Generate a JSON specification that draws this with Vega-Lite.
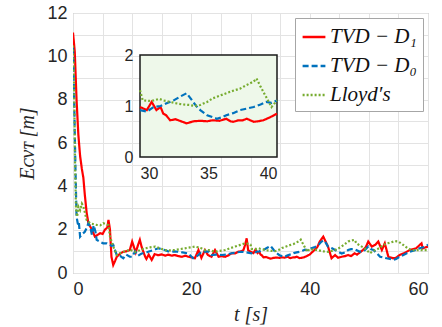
{
  "$schema": "https://vega.github.io/schema/vega-lite/v6.json",
  "width": 355,
  "height": 260,
  "autosize": {"type": "none"},
  "padding": {"left": 73, "top": 13, "right": 14, "bottom": 54},
  "background": "white",
  "config": {
    "view": {"stroke": "#a6a6a6", "strokeWidth": 1},
    "axis": {"labelFont": "Liberation Sans", "labelColor": "#262626", "titleColor": "#262626", "titleFont": "Liberation Serif", "titleFontStyle": "italic", "titleFontWeight": "normal"}
  },
  "datasets": {
    "d": [
      {"t":0,"v":11.1,"s":"TVD − D₁"},{"t":0.3,"v":10.2,"s":"TVD − D₁"},{"t":0.6,"v":8.0,"s":"TVD − D₁"},{"t":0.9,"v":6.4,"s":"TVD − D₁"},{"t":1.2,"v":5.4,"s":"TVD − D₁"},{"t":1.5,"v":4.8,"s":"TVD − D₁"},{"t":1.75,"v":4.4,"s":"TVD − D₁"},{"t":2.0,"v":3.6,"s":"TVD − D₁"},{"t":2.3,"v":2.8,"s":"TVD − D₁"},{"t":2.6,"v":2.3,"s":"TVD − D₁"},{"t":3.2,"v":2.0,"s":"TVD − D₁"},{"t":3.7,"v":1.68,"s":"TVD − D₁"},{"t":4.1,"v":1.75,"s":"TVD − D₁"},{"t":4.6,"v":1.84,"s":"TVD − D₁"},{"t":5.0,"v":1.8,"s":"TVD − D₁"},{"t":5.4,"v":2.0,"s":"TVD − D₁"},{"t":5.8,"v":2.1,"s":"TVD − D₁"},{"t":6.0,"v":2.45,"s":"TVD − D₁"},{"t":6.25,"v":2.0,"s":"TVD − D₁"},{"t":6.5,"v":0.75,"s":"TVD − D₁"},{"t":6.8,"v":0.37,"s":"TVD − D₁"},{"t":7.1,"v":0.55,"s":"TVD − D₁"},{"t":7.4,"v":0.75,"s":"TVD − D₁"},{"t":8.0,"v":0.9,"s":"TVD − D₁"},{"t":8.5,"v":0.98,"s":"TVD − D₁"},{"t":9.0,"v":1.0,"s":"TVD − D₁"},{"t":9.6,"v":1.06,"s":"TVD − D₁"},{"t":10.0,"v":1.45,"s":"TVD − D₁"},{"t":10.3,"v":1.2,"s":"TVD − D₁"},{"t":10.6,"v":0.95,"s":"TVD − D₁"},{"t":11.0,"v":1.3,"s":"TVD − D₁"},{"t":11.3,"v":1.53,"s":"TVD − D₁"},{"t":11.6,"v":1.2,"s":"TVD − D₁"},{"t":12.2,"v":0.75,"s":"TVD − D₁"},{"t":12.4,"v":0.65,"s":"TVD − D₁"},{"t":12.8,"v":0.85,"s":"TVD − D₁"},{"t":13.3,"v":0.6,"s":"TVD − D₁"},{"t":13.8,"v":0.87,"s":"TVD − D₁"},{"t":14.4,"v":0.82,"s":"TVD − D₁"},{"t":15.0,"v":0.86,"s":"TVD − D₁"},{"t":15.6,"v":0.8,"s":"TVD − D₁"},{"t":16.1,"v":0.85,"s":"TVD − D₁"},{"t":16.7,"v":0.8,"s":"TVD − D₁"},{"t":17.2,"v":0.83,"s":"TVD − D₁"},{"t":17.8,"v":0.78,"s":"TVD − D₁"},{"t":18.4,"v":0.75,"s":"TVD − D₁"},{"t":19.0,"v":0.8,"s":"TVD − D₁"},{"t":19.5,"v":0.75,"s":"TVD − D₁"},{"t":20.1,"v":0.72,"s":"TVD − D₁"},{"t":20.6,"v":0.68,"s":"TVD − D₁"},{"t":21.2,"v":1.06,"s":"TVD − D₁"},{"t":21.7,"v":0.7,"s":"TVD − D₁"},{"t":22.3,"v":1.06,"s":"TVD − D₁"},{"t":22.8,"v":0.83,"s":"TVD − D₁"},{"t":23.4,"v":0.75,"s":"TVD − D₁"},{"t":24.0,"v":1.06,"s":"TVD − D₁"},{"t":24.6,"v":0.75,"s":"TVD − D₁"},{"t":25.1,"v":0.78,"s":"TVD − D₁"},{"t":25.7,"v":0.75,"s":"TVD − D₁"},{"t":26.3,"v":0.82,"s":"TVD − D₁"},{"t":26.8,"v":0.91,"s":"TVD − D₁"},{"t":27.4,"v":0.9,"s":"TVD − D₁"},{"t":27.9,"v":0.98,"s":"TVD − D₁"},{"t":28.4,"v":1.0,"s":"TVD − D₁"},{"t":28.8,"v":1.06,"s":"TVD − D₁"},{"t":29.1,"v":1.3,"s":"TVD − D₁"},{"t":29.35,"v":1.6,"s":"TVD − D₁"},{"t":29.6,"v":1.06,"s":"TVD − D₁"},{"t":30.0,"v":0.98,"s":"TVD − D₁"},{"t":30.5,"v":0.92,"s":"TVD − D₁"},{"t":30.85,"v":1.08,"s":"TVD − D₁"},{"t":31.2,"v":0.92,"s":"TVD − D₁"},{"t":31.5,"v":0.98,"s":"TVD − D₁"},{"t":31.7,"v":0.85,"s":"TVD − D₁"},{"t":31.9,"v":0.82,"s":"TVD − D₁"},{"t":32.2,"v":0.72,"s":"TVD − D₁"},{"t":32.6,"v":0.74,"s":"TVD − D₁"},{"t":32.9,"v":0.71,"s":"TVD − D₁"},{"t":33.4,"v":0.66,"s":"TVD − D₁"},{"t":33.9,"v":0.7,"s":"TVD − D₁"},{"t":34.4,"v":0.71,"s":"TVD − D₁"},{"t":34.9,"v":0.7,"s":"TVD − D₁"},{"t":35.3,"v":0.72,"s":"TVD − D₁"},{"t":35.8,"v":0.71,"s":"TVD − D₁"},{"t":36.3,"v":0.75,"s":"TVD − D₁"},{"t":36.6,"v":0.7,"s":"TVD − D₁"},{"t":36.8,"v":0.69,"s":"TVD − D₁"},{"t":37.2,"v":0.72,"s":"TVD − D₁"},{"t":37.5,"v":0.72,"s":"TVD − D₁"},{"t":37.8,"v":0.75,"s":"TVD − D₁"},{"t":38.3,"v":0.69,"s":"TVD − D₁"},{"t":38.6,"v":0.7,"s":"TVD − D₁"},{"t":39.0,"v":0.72,"s":"TVD − D₁"},{"t":39.5,"v":0.78,"s":"TVD − D₁"},{"t":40.0,"v":0.85,"s":"TVD − D₁"},{"t":40.8,"v":1.06,"s":"TVD − D₁"},{"t":41.3,"v":1.2,"s":"TVD − D₁"},{"t":41.7,"v":1.45,"s":"TVD − D₁"},{"t":42.3,"v":1.68,"s":"TVD − D₁"},{"t":42.7,"v":1.45,"s":"TVD − D₁"},{"t":43.1,"v":1.22,"s":"TVD − D₁"},{"t":43.7,"v":0.68,"s":"TVD − D₁"},{"t":44.3,"v":0.83,"s":"TVD − D₁"},{"t":44.8,"v":0.7,"s":"TVD − D₁"},{"t":45.4,"v":0.75,"s":"TVD − D₁"},{"t":46.0,"v":0.78,"s":"TVD − D₁"},{"t":46.5,"v":0.83,"s":"TVD − D₁"},{"t":47.0,"v":0.78,"s":"TVD − D₁"},{"t":47.6,"v":0.91,"s":"TVD − D₁"},{"t":48.0,"v":0.85,"s":"TVD − D₁"},{"t":48.5,"v":0.95,"s":"TVD − D₁"},{"t":49.0,"v":1.06,"s":"TVD − D₁"},{"t":49.5,"v":1.2,"s":"TVD − D₁"},{"t":49.9,"v":1.45,"s":"TVD − D₁"},{"t":50.5,"v":1.22,"s":"TVD − D₁"},{"t":51.1,"v":1.3,"s":"TVD − D₁"},{"t":51.6,"v":1.45,"s":"TVD − D₁"},{"t":52.2,"v":1.06,"s":"TVD − D₁"},{"t":52.7,"v":1.37,"s":"TVD − D₁"},{"t":53.3,"v":0.75,"s":"TVD − D₁"},{"t":54.1,"v":0.68,"s":"TVD − D₁"},{"t":54.6,"v":0.7,"s":"TVD − D₁"},{"t":55.2,"v":0.83,"s":"TVD − D₁"},{"t":56.0,"v":0.92,"s":"TVD − D₁"},{"t":56.9,"v":1.06,"s":"TVD − D₁"},{"t":58.0,"v":1.14,"s":"TVD − D₁"},{"t":58.9,"v":1.37,"s":"TVD − D₁"},{"t":59.1,"v":1.14,"s":"TVD − D₁"},{"t":60.0,"v":1.22,"s":"TVD − D₁"},

      {"t":0,"v":10.4,"s":"TVD − D₀"},{"t":0.2,"v":8.0,"s":"TVD − D₀"},{"t":0.4,"v":5.0,"s":"TVD − D₀"},{"t":0.6,"v":2.6,"s":"TVD − D₀"},{"t":0.8,"v":2.3,"s":"TVD − D₀"},{"t":0.9,"v":2.2,"s":"TVD − D₀"},{"t":1.0,"v":2.3,"s":"TVD − D₀"},{"t":1.2,"v":1.68,"s":"TVD − D₀"},{"t":1.4,"v":1.75,"s":"TVD − D₀"},{"t":1.75,"v":1.84,"s":"TVD − D₀"},{"t":2.0,"v":1.9,"s":"TVD − D₀"},{"t":2.3,"v":2.07,"s":"TVD − D₀"},{"t":2.6,"v":2.3,"s":"TVD − D₀"},{"t":2.9,"v":2.14,"s":"TVD − D₀"},{"t":3.2,"v":1.76,"s":"TVD − D₀"},{"t":3.5,"v":2.2,"s":"TVD − D₀"},{"t":3.8,"v":1.9,"s":"TVD − D₀"},{"t":4.0,"v":1.53,"s":"TVD − D₀"},{"t":4.5,"v":1.45,"s":"TVD − D₀"},{"t":5.1,"v":1.37,"s":"TVD − D₀"},{"t":5.7,"v":1.37,"s":"TVD − D₀"},{"t":6.25,"v":1.3,"s":"TVD − D₀"},{"t":6.5,"v":1.25,"s":"TVD − D₀"},{"t":6.8,"v":1.3,"s":"TVD − D₀"},{"t":7.1,"v":1.06,"s":"TVD − D₀"},{"t":7.4,"v":0.83,"s":"TVD − D₀"},{"t":8.0,"v":0.78,"s":"TVD − D₀"},{"t":8.5,"v":0.68,"s":"TVD − D₀"},{"t":9.0,"v":0.85,"s":"TVD − D₀"},{"t":9.6,"v":0.75,"s":"TVD − D₀"},{"t":10.0,"v":0.75,"s":"TVD − D₀"},{"t":10.5,"v":1.0,"s":"TVD − D₀"},{"t":11.0,"v":0.8,"s":"TVD − D₀"},{"t":11.6,"v":0.9,"s":"TVD − D₀"},{"t":12.2,"v":0.92,"s":"TVD − D₀"},{"t":12.7,"v":0.98,"s":"TVD − D₀"},{"t":13.5,"v":1.05,"s":"TVD − D₀"},{"t":14.4,"v":1.14,"s":"TVD − D₀"},{"t":15.0,"v":1.1,"s":"TVD − D₀"},{"t":15.5,"v":1.06,"s":"TVD − D₀"},{"t":16.1,"v":1.0,"s":"TVD − D₀"},{"t":16.6,"v":0.98,"s":"TVD − D₀"},{"t":17.2,"v":1.0,"s":"TVD − D₀"},{"t":17.7,"v":0.98,"s":"TVD − D₀"},{"t":18.5,"v":0.95,"s":"TVD − D₀"},{"t":19.5,"v":0.9,"s":"TVD − D₀"},{"t":20.3,"v":0.68,"s":"TVD − D₀"},{"t":20.8,"v":0.75,"s":"TVD − D₀"},{"t":21.2,"v":0.83,"s":"TVD − D₀"},{"t":21.7,"v":0.98,"s":"TVD − D₀"},{"t":22.3,"v":0.98,"s":"TVD − D₀"},{"t":22.9,"v":1.0,"s":"TVD − D₀"},{"t":23.4,"v":0.83,"s":"TVD − D₀"},{"t":24.2,"v":0.85,"s":"TVD − D₀"},{"t":25.1,"v":0.83,"s":"TVD − D₀"},{"t":26.0,"v":0.85,"s":"TVD − D₀"},{"t":26.8,"v":0.91,"s":"TVD − D₀"},{"t":27.6,"v":0.95,"s":"TVD − D₀"},{"t":28.5,"v":0.98,"s":"TVD − D₀"},{"t":29.3,"v":0.95,"s":"TVD − D₀"},{"t":30.0,"v":0.92,"s":"TVD − D₀"},{"t":30.5,"v":0.89,"s":"TVD − D₀"},{"t":31.0,"v":0.98,"s":"TVD − D₀"},{"t":31.5,"v":1.0,"s":"TVD − D₀"},{"t":31.9,"v":1.05,"s":"TVD − D₀"},{"t":32.4,"v":1.1,"s":"TVD − D₀"},{"t":32.9,"v":1.18,"s":"TVD − D₀"},{"t":33.4,"v":1.25,"s":"TVD − D₀"},{"t":33.8,"v":1.11,"s":"TVD − D₀"},{"t":34.1,"v":1.0,"s":"TVD − D₀"},{"t":34.4,"v":0.92,"s":"TVD − D₀"},{"t":34.9,"v":0.82,"s":"TVD − D₀"},{"t":35.3,"v":0.78,"s":"TVD − D₀"},{"t":35.6,"v":0.75,"s":"TVD − D₀"},{"t":36.0,"v":0.78,"s":"TVD − D₀"},{"t":36.3,"v":0.82,"s":"TVD − D₀"},{"t":36.8,"v":0.86,"s":"TVD − D₀"},{"t":37.3,"v":0.92,"s":"TVD − D₀"},{"t":37.8,"v":0.95,"s":"TVD − D₀"},{"t":38.3,"v":0.98,"s":"TVD − D₀"},{"t":38.8,"v":1.03,"s":"TVD − D₀"},{"t":39.2,"v":1.08,"s":"TVD − D₀"},{"t":39.6,"v":1.06,"s":"TVD − D₀"},{"t":40.0,"v":1.11,"s":"TVD − D₀"},{"t":40.9,"v":1.2,"s":"TVD − D₀"},{"t":41.5,"v":1.3,"s":"TVD − D₀"},{"t":42.0,"v":1.45,"s":"TVD − D₀"},{"t":42.5,"v":1.5,"s":"TVD − D₀"},{"t":43.1,"v":1.22,"s":"TVD − D₀"},{"t":43.7,"v":1.15,"s":"TVD − D₀"},{"t":44.3,"v":1.06,"s":"TVD − D₀"},{"t":45.4,"v":0.9,"s":"TVD − D₀"},{"t":46.0,"v":0.95,"s":"TVD − D₀"},{"t":46.5,"v":1.06,"s":"TVD − D₀"},{"t":47.0,"v":1.1,"s":"TVD − D₀"},{"t":47.6,"v":1.1,"s":"TVD − D₀"},{"t":48.5,"v":0.98,"s":"TVD − D₀"},{"t":49.3,"v":1.05,"s":"TVD − D₀"},{"t":49.9,"v":1.22,"s":"TVD − D₀"},{"t":50.4,"v":1.1,"s":"TVD − D₀"},{"t":50.8,"v":1.06,"s":"TVD − D₀"},{"t":51.4,"v":0.9,"s":"TVD − D₀"},{"t":51.9,"v":0.75,"s":"TVD − D₀"},{"t":52.5,"v":0.72,"s":"TVD − D₀"},{"t":53.0,"v":0.68,"s":"TVD − D₀"},{"t":53.6,"v":0.65,"s":"TVD − D₀"},{"t":54.1,"v":0.6,"s":"TVD − D₀"},{"t":54.6,"v":0.65,"s":"TVD − D₀"},{"t":55.2,"v":0.75,"s":"TVD − D₀"},{"t":56.0,"v":0.85,"s":"TVD − D₀"},{"t":56.9,"v":0.98,"s":"TVD − D₀"},{"t":57.8,"v":1.05,"s":"TVD − D₀"},{"t":58.6,"v":1.14,"s":"TVD − D₀"},{"t":59.3,"v":1.2,"s":"TVD − D₀"},{"t":60.0,"v":1.3,"s":"TVD − D₀"},

      {"t":0,"v":10.5,"s":"Lloyd′s"},{"t":0.2,"v":8.5,"s":"Lloyd′s"},{"t":0.35,"v":5.0,"s":"Lloyd′s"},{"t":0.5,"v":3.0,"s":"Lloyd′s"},{"t":0.7,"v":2.6,"s":"Lloyd′s"},{"t":0.9,"v":3.07,"s":"Lloyd′s"},{"t":1.2,"v":2.9,"s":"Lloyd′s"},{"t":1.5,"v":3.2,"s":"Lloyd′s"},{"t":1.75,"v":3.07,"s":"Lloyd′s"},{"t":2.0,"v":2.8,"s":"Lloyd′s"},{"t":2.3,"v":2.45,"s":"Lloyd′s"},{"t":2.9,"v":2.3,"s":"Lloyd′s"},{"t":3.5,"v":2.25,"s":"Lloyd′s"},{"t":4.0,"v":2.22,"s":"Lloyd′s"},{"t":4.6,"v":2.2,"s":"Lloyd′s"},{"t":5.1,"v":2.3,"s":"Lloyd′s"},{"t":5.6,"v":2.25,"s":"Lloyd′s"},{"t":6.0,"v":2.2,"s":"Lloyd′s"},{"t":6.25,"v":1.68,"s":"Lloyd′s"},{"t":6.8,"v":1.22,"s":"Lloyd′s"},{"t":7.4,"v":0.83,"s":"Lloyd′s"},{"t":8.0,"v":0.92,"s":"Lloyd′s"},{"t":8.5,"v":0.98,"s":"Lloyd′s"},{"t":9.0,"v":1.0,"s":"Lloyd′s"},{"t":9.6,"v":1.08,"s":"Lloyd′s"},{"t":10.5,"v":0.98,"s":"Lloyd′s"},{"t":11.3,"v":1.05,"s":"Lloyd′s"},{"t":12.2,"v":1.14,"s":"Lloyd′s"},{"t":13.0,"v":1.18,"s":"Lloyd′s"},{"t":13.9,"v":1.22,"s":"Lloyd′s"},{"t":14.7,"v":1.14,"s":"Lloyd′s"},{"t":15.5,"v":1.06,"s":"Lloyd′s"},{"t":16.3,"v":1.04,"s":"Lloyd′s"},{"t":17.2,"v":1.06,"s":"Lloyd′s"},{"t":18.0,"v":1.1,"s":"Lloyd′s"},{"t":18.9,"v":1.14,"s":"Lloyd′s"},{"t":19.8,"v":1.18,"s":"Lloyd′s"},{"t":20.6,"v":1.22,"s":"Lloyd′s"},{"t":21.2,"v":1.18,"s":"Lloyd′s"},{"t":21.7,"v":1.14,"s":"Lloyd′s"},{"t":22.3,"v":1.06,"s":"Lloyd′s"},{"t":22.9,"v":1.06,"s":"Lloyd′s"},{"t":24.0,"v":0.98,"s":"Lloyd′s"},{"t":24.8,"v":1.02,"s":"Lloyd′s"},{"t":25.7,"v":1.06,"s":"Lloyd′s"},{"t":26.5,"v":1.14,"s":"Lloyd′s"},{"t":27.4,"v":1.22,"s":"Lloyd′s"},{"t":28.3,"v":1.3,"s":"Lloyd′s"},{"t":29.1,"v":1.37,"s":"Lloyd′s"},{"t":29.6,"v":1.35,"s":"Lloyd′s"},{"t":30.0,"v":1.31,"s":"Lloyd′s"},{"t":30.2,"v":1.11,"s":"Lloyd′s"},{"t":30.6,"v":1.1,"s":"Lloyd′s"},{"t":31.0,"v":1.11,"s":"Lloyd′s"},{"t":31.4,"v":1.14,"s":"Lloyd′s"},{"t":31.7,"v":1.11,"s":"Lloyd′s"},{"t":32.2,"v":1.08,"s":"Lloyd′s"},{"t":32.7,"v":1.05,"s":"Lloyd′s"},{"t":33.1,"v":1.03,"s":"Lloyd′s"},{"t":33.6,"v":1.02,"s":"Lloyd′s"},{"t":34.0,"v":1.0,"s":"Lloyd′s"},{"t":34.4,"v":1.02,"s":"Lloyd′s"},{"t":34.9,"v":1.08,"s":"Lloyd′s"},{"t":35.3,"v":1.15,"s":"Lloyd′s"},{"t":35.8,"v":1.2,"s":"Lloyd′s"},{"t":36.3,"v":1.25,"s":"Lloyd′s"},{"t":36.8,"v":1.3,"s":"Lloyd′s"},{"t":37.3,"v":1.34,"s":"Lloyd′s"},{"t":37.7,"v":1.4,"s":"Lloyd′s"},{"t":38.0,"v":1.44,"s":"Lloyd′s"},{"t":38.3,"v":1.48,"s":"Lloyd′s"},{"t":38.5,"v":1.54,"s":"Lloyd′s"},{"t":38.8,"v":1.38,"s":"Lloyd′s"},{"t":39.2,"v":1.18,"s":"Lloyd′s"},{"t":39.6,"v":0.98,"s":"Lloyd′s"},{"t":40.0,"v":1.11,"s":"Lloyd′s"},{"t":40.5,"v":1.08,"s":"Lloyd′s"},{"t":41.4,"v":1.06,"s":"Lloyd′s"},{"t":42.2,"v":1.0,"s":"Lloyd′s"},{"t":43.1,"v":0.98,"s":"Lloyd′s"},{"t":44.3,"v":1.06,"s":"Lloyd′s"},{"t":44.9,"v":1.14,"s":"Lloyd′s"},{"t":45.4,"v":1.22,"s":"Lloyd′s"},{"t":46.0,"v":1.35,"s":"Lloyd′s"},{"t":46.5,"v":1.45,"s":"Lloyd′s"},{"t":47.0,"v":1.5,"s":"Lloyd′s"},{"t":47.6,"v":1.53,"s":"Lloyd′s"},{"t":47.9,"v":1.37,"s":"Lloyd′s"},{"t":48.6,"v":1.25,"s":"Lloyd′s"},{"t":49.3,"v":1.14,"s":"Lloyd′s"},{"t":50.2,"v":0.91,"s":"Lloyd′s"},{"t":50.6,"v":1.0,"s":"Lloyd′s"},{"t":51.1,"v":1.06,"s":"Lloyd′s"},{"t":51.8,"v":1.15,"s":"Lloyd′s"},{"t":52.5,"v":1.3,"s":"Lloyd′s"},{"t":53.0,"v":1.36,"s":"Lloyd′s"},{"t":53.6,"v":1.4,"s":"Lloyd′s"},{"t":54.4,"v":1.47,"s":"Lloyd′s"},{"t":55.0,"v":1.45,"s":"Lloyd′s"},{"t":55.8,"v":1.3,"s":"Lloyd′s"},{"t":56.5,"v":1.15,"s":"Lloyd′s"},{"t":57.2,"v":1.06,"s":"Lloyd′s"},{"t":58.0,"v":1.05,"s":"Lloyd′s"},{"t":58.6,"v":1.06,"s":"Lloyd′s"},{"t":59.3,"v":1.05,"s":"Lloyd′s"},{"t":60.0,"v":1.06,"s":"Lloyd′s"}
    ]
  },
  "data": {"name": "d"},
  "layer": [
    {
      "mark": {"type": "line", "strokeWidth": 2.2, "clip": true},
      "encoding": {
        "x": {"field": "t", "type": "quantitative", "scale": {"domain": [0, 60], "nice": false},
          "axis": {"values": [0,5,10,15,20,25,30,35,40,45,50,55,60], "labelExpr": "datum.value % 20 === 0 ? datum.label : ''", "labelFontSize": 18, "labelPadding": 7, "ticks": false, "tickSize": 0, "domain": false, "gridColor": "#e3e3e3", "title": "t [s]", "titleFontSize": 20, "titlePadding": 6}},
        "y": {"field": "v", "type": "quantitative", "scale": {"domain": [0, 12], "nice": false},
          "axis": {"values": [0,1,2,3,4,5,6,7,8,9,10,11,12], "labelExpr": "datum.value % 2 === 0 ? datum.label : ''", "labelFontSize": 18, "labelPadding": 6, "ticks": false, "tickSize": 0, "domain": false, "gridColor": "#e3e3e3", "title": "Eᴄᴠᴛ [m]", "titleFontSize": 20, "titlePadding": 9}},
        "color": {"field": "s", "type": "nominal", "scale": {"domain": ["TVD − D₁", "TVD − D₀", "Lloyd′s"], "range": ["#ff0000", "#0072bd", "#77ac30"]},
          "legend": {"title": null, "orient": "top-right", "offset": 5, "fillColor": "white", "strokeColor": "#a6a6a6", "padding": 6, "labelFont": "Liberation Serif", "labelFontStyle": "italic", "labelFontSize": 21, "labelColor": "#111", "symbolType": "stroke", "symbolSize": 520, "symbolStrokeWidth": 2.5, "rowPadding": 6, "labelOffset": 3}},
        "strokeDash": {"field": "s", "type": "nominal", "scale": {"domain": ["TVD − D₁", "TVD − D₀", "Lloyd′s"], "range": [[1, 0], [6, 3], [2, 2]]},
          "legend": {"title": null, "orient": "top-right", "offset": 5, "fillColor": "white", "strokeColor": "#a6a6a6", "padding": 6, "labelFont": "Liberation Serif", "labelFontStyle": "italic", "labelFontSize": 21, "labelColor": "#111", "symbolType": "stroke", "symbolSize": 520, "symbolStrokeWidth": 2.5, "rowPadding": 6, "labelOffset": 3}}
      }
    },
    {
      "layer": [
        {
          "data": {"values": [{}]},
          "mark": {"type": "rect", "fill": "#eef8ea", "stroke": "#1a1a1a", "strokeWidth": 1.5},
          "encoding": {
            "x": {"datum": 30, "type": "quantitative", "scale": {"domain": [30, 40], "range": [67, 204], "nice": false},
              "axis": {"orient": "bottom", "offset": -116, "values": [30, 35, 40], "labelExpr": "datum.value + ''", "grid": false, "ticks": false, "tickSize": 0, "domain": false, "labelFontSize": 16, "labelPadding": 8, "labelOverlap": false, "title": null}},
            "x2": {"datum": 40},
            "y": {"datum": 0, "type": "quantitative", "scale": {"domain": [0, 2], "range": [144, 42], "nice": false},
              "axis": {"orient": "left", "offset": -67, "values": [0, 1, 2], "labelExpr": "datum.value + ''", "grid": false, "ticks": false, "tickSize": 0, "domain": false, "labelFontSize": 16, "labelPadding": 7, "labelOverlap": false, "labelFlush": false, "title": null}},
            "y2": {"datum": 2}
          }
        },
        {
          "transform": [{"filter": "datum.t >= 30 && datum.t <= 40"}],
          "mark": {"type": "line", "strokeWidth": 2.2},
          "encoding": {
            "x": {"field": "t", "type": "quantitative",
              "axis": {"orient": "bottom", "offset": -116, "values": [30, 35, 40], "labelExpr": "datum.value + ''", "grid": false, "ticks": false, "tickSize": 0, "domain": false, "labelFontSize": 16, "labelPadding": 8, "labelOverlap": false, "title": null}},
            "y": {"field": "v", "type": "quantitative",
              "axis": {"orient": "left", "offset": -67, "values": [0, 1, 2], "labelExpr": "datum.value + ''", "grid": false, "ticks": false, "tickSize": 0, "domain": false, "labelFontSize": 16, "labelPadding": 7, "labelOverlap": false, "labelFlush": false, "title": null}},
            "color": {"field": "s", "type": "nominal", "legend": null},
            "strokeDash": {"field": "s", "type": "nominal", "legend": null}
          }
        }
      ]
    }
  ],
  "resolve": {"scale": {"x": "independent", "y": "independent"}, "axis": {"x": "independent", "y": "independent"}}
}
